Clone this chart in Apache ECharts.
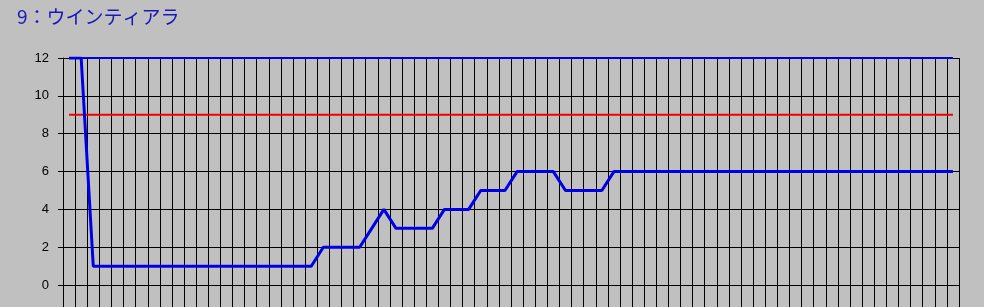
<!DOCTYPE html>
<html>
<head>
<meta charset="utf-8">
<script src="https://cdn.jsdelivr.net/npm/echarts@6/dist/echarts.min.js"></script>
<style>
html,body{margin:0;padding:0;background:#c0c0c0;overflow:hidden;}
#c{width:984px;height:340px;}
</style>
</head>
<body>
<div id="c"></div>
<script>
var titleText = '9：ウインティアラ';
var categories = [];
for (var k = 1; k <= 74; k++) categories.push(String(k));
var yTicks = [0, 2, 4, 6, 8, 10, 12];
var mainValues = [12,12,
  1,1,1,1,1,1,1,1,1,1,1,1,1,1,1,1,1,1,1,
  2,2,2,2,
  3,
  4,
  3,3,3,3,
  4,4,4,
  5,5,5,
  6,6,6,6,
  5,5,5,5,
  6,6,6,6,6,6,6,6,6,6,6,6,6,6,6,6,6,6,6,6,6,6,6,6,6,6,6,6,6];
var maxValues = [12,12,12,12,12,12,12,12,12,12,12,12,12,12,12,12,12,12,12,12,12,12,12,12,12,12,12,12,12,12,12,12,12,12,12,12,12,12,12,12,12,12,12,12,12,12,12,12,12,12,12,12,12,12,12,12,12,12,12,12,12,12,12,12,12,12,12,12,12,12,12,12,12,12];
var targetValues = [9,9,9,9,9,9,9,9,9,9,9,9,9,9,9,9,9,9,9,9,9,9,9,9,9,9,9,9,9,9,9,9,9,9,9,9,9,9,9,9,9,9,9,9,9,9,9,9,9,9,9,9,9,9,9,9,9,9,9,9,9,9,9,9,9,9,9,9,9,9,9,9,9,9];

var chart = echarts.init(document.getElementById('c'));
chart.setOption({
  backgroundColor: '#c0c0c0',
  animation: false,
  title: {
    text: titleText,
    left: 12,
    top: 2,
    textStyle: {color: '#1818b8', fontSize: 19, fontWeight: 'normal', fontFamily: 'Noto Sans CJK JP'}
  },
  grid: {left: 63, right: 25, top: 58, height: 265, containLabel: false},
  xAxis: {
    type: 'category',
    data: categories,
    boundaryGap: true,
    axisLine: {show: true, onZero: true, lineStyle: {color: '#000', width: 1}},
    axisTick: {show: false},
    axisLabel: {show: false, interval: 0},
    splitLine: {show: true, interval: 0, lineStyle: {color: '#000', width: 1}}
  },
  yAxis: {
    type: 'value',
    min: -2,
    max: 12,
    interval: 2,
    axisLine: {show: true, lineStyle: {color: '#000', width: 1}},
    axisTick: {show: true, length: 5, lineStyle: {color: '#000'}},
    axisLabel: {
      margin: 14, color: '#000', fontSize: 13, fontFamily: 'Liberation Sans',
      formatter: function (v) { return yTicks.indexOf(v) >= 0 ? String(v) : ''; }
    },
    splitLine: {show: true, lineStyle: {color: '#000', width: 1}}
  },
  series: [
    {type: 'line', data: targetValues, symbol: 'none', lineStyle: {color: '#f00000', width: 2}, z: 3},
    {type: 'line', data: maxValues, symbol: 'none', lineStyle: {color: '#0000e6', width: 2}, z: 4},
    {type: 'line', data: mainValues, symbol: 'none', lineStyle: {color: '#0000e6', width: 3}, z: 5}
  ]
});
</script>
</body>
</html>
